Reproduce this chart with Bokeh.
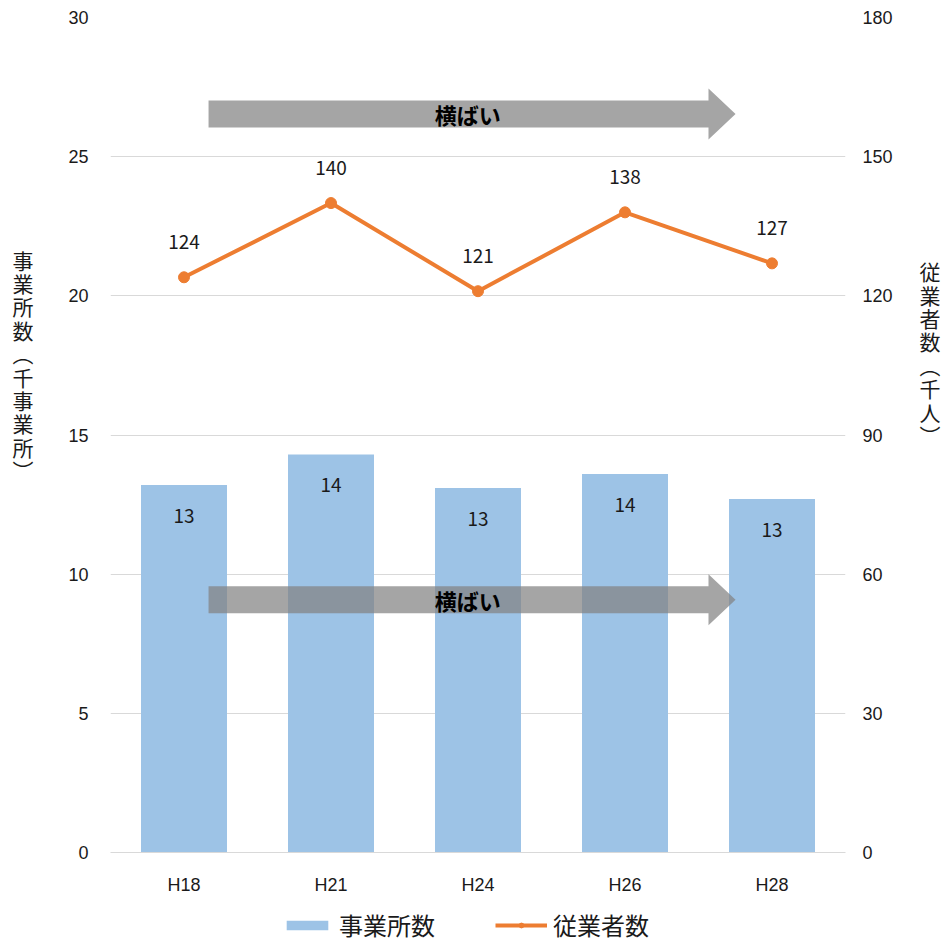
from bokeh.plotting import figure
from bokeh.layouts import column
from bokeh.models import (Range1d, LinearAxis, FactorRange, ColumnDataSource, Legend,
                          LegendItem, FixedTicker)
from bokeh.core.properties import value
from bokeh.embed import file_html
from bokeh.resources import INLINE

categories = ["H18", "H21", "H24", "H26", "H28"]
establishments = [13.2, 14.3, 13.1, 13.6, 12.7]          # 千事業所
establishment_labels = ["13", "14", "13", "14", "13"]
employees = [124, 140, 121, 138, 127]                     # 千人
employee_labels = ["124", "140", "121", "138", "127"]
left_ticks = [0, 5, 10, 15, 20, 25, 30]
right_ticks = [0, 30, 60, 90, 120, 150, 180]
arrow_text = "横ばい"
left_title = "事業所数︵千事業所︶"
right_title = "従業者数︵千人︶"
series_names = ["事業所数", "従業者数"]

JP = "Noto Sans CJK JP"
LAT = "Liberation Sans"
TXT = "#1a1a1a"
BAR = "#9DC3E6"
LINE = "#ED7D31"

src = ColumnDataSource(dict(cat=categories, est=establishments, est_lab=establishment_labels,
                            emp=employees, emp_lab=employee_labels))

p = figure(x_range=FactorRange(*categories), y_range=Range1d(0, 30),
           frame_width=735, frame_height=835,
           output_backend="svg", toolbar_location=None,
           min_border_left=110, min_border_right=98, min_border_top=17, min_border_bottom=43)
p.outline_line_color = None
p.extra_y_ranges = {"emp": Range1d(0, 180)}


def style_axis(ax, standoff):
    ax.axis_line_color = None
    ax.major_tick_line_color = None
    ax.minor_tick_line_color = None
    ax.major_tick_in = 0
    ax.major_tick_out = 0
    ax.major_label_standoff = standoff
    ax.major_label_text_font = LAT
    ax.major_label_text_font_size = "18px"
    ax.major_label_text_color = TXT
    ax.axis_label_text_font = JP
    ax.axis_label_text_font_size = "21px"
    ax.axis_label_text_font_style = "normal"
    ax.axis_label_text_color = TXT
    ax.axis_label_text_line_height = 0.78
    ax.axis_label_orientation = "horizontal"


# vertical stacked titles; trailing blank lines lift the block like the reference
p.yaxis.ticker = FixedTicker(ticks=left_ticks)
style_axis(p.yaxis[0], 22)
p.yaxis.axis_label = "\n".join(left_title) + "\n" * 6
p.yaxis.axis_label_standoff = 32

ax2 = LinearAxis(y_range_name="emp", ticker=FixedTicker(ticks=right_ticks))
style_axis(ax2, 17)
ax2.axis_label = "\n".join(right_title) + "\n" * 7
ax2.axis_label_standoff = 24
p.add_layout(ax2, "right")

style_axis(p.xaxis[0], 22)
p.xaxis.axis_line_color = "#D9D9D9"
p.xaxis.axis_label_standoff = 0

p.xgrid.grid_line_color = None
p.ygrid.grid_line_color = "#D9D9D9"
p.ygrid.grid_line_width = 1

# bars
p.vbar(x="cat", top="est", width=0.585, source=src, fill_color=BAR, line_color=None)


def arrow(x0, xh, x1, yc, body, head):
    xs = [x0, xh, xh, x1, xh, xh, x0]
    ys = [yc - body, yc - body, yc - head, yc, yc + head, yc + body, yc + body]
    p.patch(xs, ys, fill_color="#828282", fill_alpha=0.72, line_color=None)
    p.text(x=[(x0 + x1) / 2 - 0.03], y=[yc], text=[arrow_text], text_align="center",
           text_baseline="middle", text_font=value(JP), text_font_style="bold",
           text_font_size="22px", text_color="black")


arrow(0.667, 4.068, 4.252, 9.08, 0.485, 0.915)
arrow(0.667, 4.068, 4.252, 26.53, 0.485, 0.915)

# line
p.line(x="cat", y="emp", y_range_name="emp", source=src, line_color=LINE, line_width=4)
p.scatter(x="cat", y="emp", y_range_name="emp", source=src, size=11,
          fill_color=LINE, line_color=LINE)

# data labels
p.text(x="cat", y="est", text="est_lab", source=src, text_align="center", text_baseline="middle",
       y_offset=31, text_font=value(JP), text_font_size="19px", text_color=TXT)
p.text(x="cat", y="emp", text="emp_lab", source=src, y_range_name="emp", text_align="center",
       text_baseline="middle", y_offset=-35, text_font=value(JP), text_font_size="19px",
       text_color=TXT)

# legend strip (separate small figure under the chart; its swatch glyphs lie off-range)
lf = figure(width=943, height=47, x_range=Range1d(0, 1), y_range=Range1d(0, 1),
            x_axis_type=None, y_axis_type=None,
            output_backend="svg", toolbar_location=None,
            min_border_left=0, min_border_right=0, min_border_top=0, min_border_bottom=0)
lf.grid.grid_line_color = None
lf.outline_line_color = None
lb = lf.vbar(x=[-10], top=[-10], width=0.5, fill_color=BAR, line_color=None)
ll = lf.line(x=[-10, -9], y=[-10, -10], line_color=LINE, line_width=4)
ls = lf.scatter(x=[-10], y=[-10], size=11, fill_color=LINE, line_color=LINE)
legend = Legend(items=[LegendItem(label=series_names[0], renderers=[lb]),
                       LegendItem(label=series_names[1], renderers=[ll, ls])],
                orientation="horizontal", location=(171, 2), glyph_width=52, glyph_height=12,
                label_text_font=JP, label_text_font_size="24px", label_text_color=TXT,
                border_line_color=None, background_fill_alpha=0, spacing=60, label_standoff=6,
                padding=0, margin=0)
lf.add_layout(legend)

layout = column(p, lf, spacing=0)
open("out.html", "w").write(file_html(layout, INLINE))
